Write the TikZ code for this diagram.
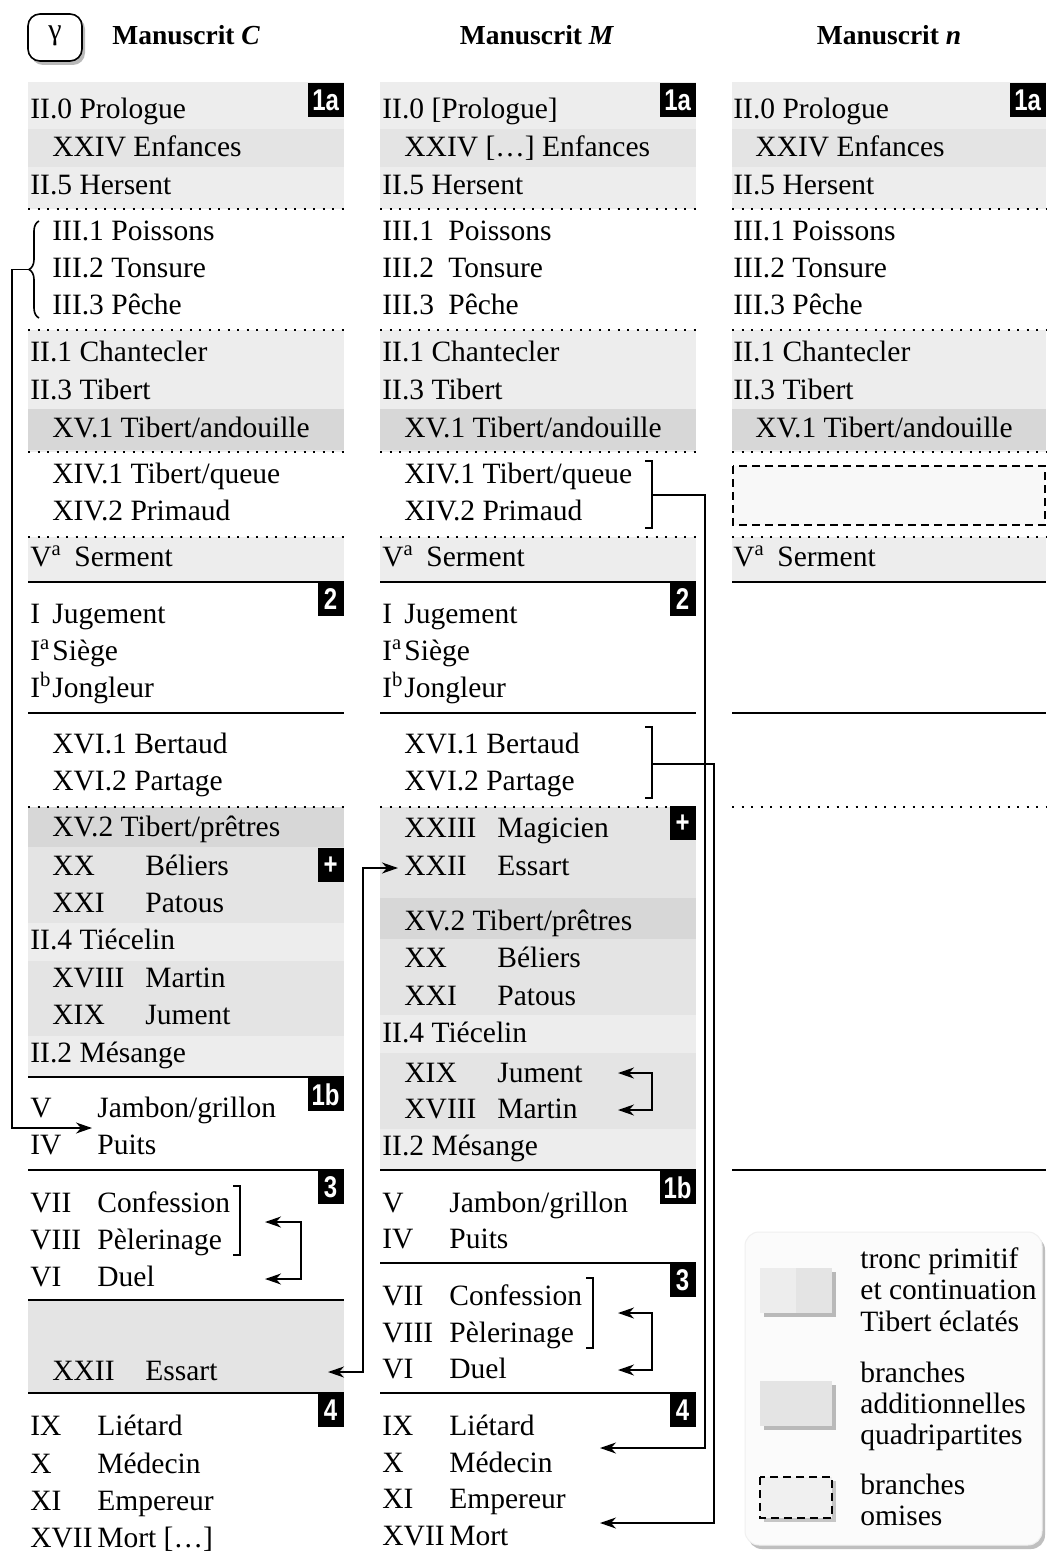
\documentclass[tikz,border=0pt]{standalone}
\usepackage{fontspec}
\setmainfont{Liberation Serif}
\newfontfamily\badgefamily[FakeStretch=0.8]{Liberation Sans}
\usetikzlibrary{arrows.meta,decorations.pathreplacing,calc}
\definecolor{tronc}{RGB}{237,237,237}
\definecolor{addb}{RGB}{228,228,228}
\definecolor{tib}{RGB}{215,215,215}
\definecolor{legbg}{RGB}{251,251,251}
\newcommand{\ms}{\fontsize{14.75}{17}\selectfont}
\newcommand{\en}[3]{\makebox[#1pt][l]{#2}#3}
\newcommand{\sa}{\textsuperscript{a}}
\newcommand{\sbb}{\textsuperscript{b}}
\begin{document}
\begin{tikzpicture}[x=0.5pt,y=-0.5pt,
  txt/.style={anchor=base west, inner sep=0pt, font=\ms},
  hdr/.style={anchor=base, inner sep=0pt, font=\fontsize{13.75}{16}\selectfont\bfseries},
  dotsep/.style={line width=1.2pt, dash pattern=on 1.2pt off 3.55pt},
  solsep/.style={line width=0.9pt},
  badge/.style={fill=black, text=white, inner sep=0pt, anchor=north east, minimum height=17pt,
    font=\fontsize{15}{15}\selectfont\badgefamily\bfseries},
  bw/.style={minimum width=18pt},
  sw/.style={minimum width=13pt},
  conn/.style={line width=0.75pt},
  arr/.style={-{Stealth[length=8pt,width=5.5pt,inset=2.5pt]}},
  darr/.style={{Stealth[length=8pt,width=5.5pt,inset=2.5pt]}-{Stealth[length=8pt,width=5.5pt,inset=2.5pt]}},
  brk/.style={line width=0.9pt},
  legtxt/.style={anchor=base west, inner sep=0pt, font=\ms}
]
\useasboundingbox (0,0) rectangle (1046,1551);
\fill[white] (0,0) rectangle (1046,1551);

% ---------- header ----------
\fill[gray!55, rounded corners=6pt] (31,17) rectangle (85,65);
\draw[line width=0.8pt, fill=white, rounded corners=6pt] (28,14) rectangle (82,61);
\node[font=\fontsize{15}{15}\selectfont] (gam) at (55,36) {γ};
\node[hdr, anchor=base west] (hC) at (112,45) {Manuscrit \textit{C}};
\node[hdr] (hM) at (537,45) {Manuscrit \textit{M}};
\node[hdr] (hN) at (889,45) {Manuscrit \textit{n}};

% ---------- gray fills ----------
% C
\fill[tronc] (28,82) rectangle (344,209);
\fill[addb] (28,129) rectangle (344,167);
\fill[tronc] (28,330) rectangle (344,452);
\fill[tib] (28,409) rectangle (344,450);
\fill[tronc] (28,537) rectangle (344,582);
\fill[tronc] (28,807) rectangle (344,1077);
\fill[tib] (28,807) rectangle (344,847);
\fill[addb] (28,847) rectangle (344,923);
\fill[addb] (28,961) rectangle (344,1036);
\fill[addb] (28,1300) rectangle (344,1393);
% M
\fill[tronc] (380,82) rectangle (696,209);
\fill[addb] (380,129) rectangle (696,167);
\fill[tronc] (380,330) rectangle (696,452);
\fill[tib] (380,409) rectangle (696,450);
\fill[tronc] (380,537) rectangle (696,582);
\fill[tronc] (380,807) rectangle (696,1170);
\fill[addb] (380,807) rectangle (696,898);
\fill[tib] (380,898) rectangle (696,939);
\fill[addb] (380,939) rectangle (696,1015);
\fill[addb] (380,1053) rectangle (696,1129);
% n
\fill[tronc] (732,82) rectangle (1046,209);
\fill[addb] (732,129) rectangle (1046,167);
\fill[tronc] (732,330) rectangle (1046,452);
\fill[tib] (732,409) rectangle (1046,450);
\fill[tronc] (732,537) rectangle (1046,582);
\draw[line width=0.8pt, dash pattern=on 4pt off 2.5pt, fill={rgb,255:red,248;green,248;blue,248}] (733,466) rectangle (1045,525);

% ---------- separators ----------
\foreach \y in {209,330,452,537,807}{
  \draw[dotsep] (28,\y) -- (344,\y);
  \draw[dotsep] (380,\y) -- (696,\y);
  \draw[dotsep] (732,\y) -- (1046,\y);
}
\foreach \y in {582,713,1077,1170,1300,1393} \draw[solsep] (28,\y) -- (344,\y);
\foreach \y in {582,713,1170,1263,1393} \draw[solsep] (380,\y) -- (696,\y);
\foreach \y in {582,713,1170} \draw[solsep] (732,\y) -- (1046,\y);

% ---------- badges ----------
\node[badge,bw] (bC1a) at (344,83) {1a};
\node[badge,sw] (bC2) at (344,582) {2};
\node[badge,sw] (bCp) at (344,848) {+};
\node[badge,bw] (bC1b) at (344,1077) {1b};
\node[badge,sw] (bC3) at (344,1170) {3};
\node[badge,sw] (bC4) at (344,1393) {4};
\node[badge,bw] (bM1a) at (696,83) {1a};
\node[badge,sw] (bM2) at (696,582) {2};
\node[badge,sw] (bMp) at (696,806) {+};
\node[badge,bw] (bM1b) at (696,1170) {1b};
\node[badge,sw] (bM3) at (696,1263) {3};
\node[badge,sw] (bM4) at (696,1393) {4};
\node[badge,bw] (bN1a) at (1046,83) {1a};

% ---------- column C ----------
\node[txt] (cA) at (30,119) {II.0 Prologue};
\node[txt] (cB) at (52,157) {XXIV Enfances};
\node[txt] (cC) at (30,195) {II.5 Hersent};
\node[txt] (cD) at (52,241) {III.1 Poissons};
\node[txt] (cE) at (52,278) {III.2 Tonsure};
\node[txt] (cF) at (52,315) {III.3 Pêche};
\node[txt] (cG) at (30,362) {II.1 Chantecler};
\node[txt] (cH) at (30,399) {II.3 Tibert};
\node[txt] (cI) at (52,437) {XV.1 Tibert/andouille};
\node[txt] (cJ) at (52,483) {XIV.1 Tibert/queue};
\node[txt] (cK) at (52,520) {XIV.2 Primaud};
\node[txt] (cL) at (30,566) {\en{22}{V\sa}{Serment}};
\node[txt] (cM) at (30,623) {\en{11}{I}{Jugement}};
\node[txt] (cN) at (30,660) {\en{11}{I\sa}{Siège}};
\node[txt] (cO) at (30,697) {\en{11}{I\sbb}{Jongleur}};
\node[txt] (cP) at (52,753) {XVI.1 Bertaud};
\node[txt] (cQ) at (52,790) {XVI.2 Partage};
\node[txt] (cR) at (52,836) {XV.2 Tibert/prêtres};
\node[txt] (cS) at (52,875) {\en{46.5}{XX}{Béliers}};
\node[txt] (cT) at (52,912) {\en{46.5}{XXI}{Patous}};
\node[txt] (cU) at (30,949) {II.4 Tiécelin};
\node[txt] (cV) at (52,987) {\en{46.5}{XVIII}{Martin}};
\node[txt] (cW) at (52,1024) {\en{46.5}{XIX}{Jument}};
\node[txt] (cX) at (30,1062) {II.2 Mésange};
\node[txt] (cY) at (30,1117) {\en{33.5}{V}{Jambon/grillon}};
\node[txt] (cZ) at (30,1154) {\en{33.5}{IV}{Puits}};
\node[txt] (c7) at (30,1212) {\en{33.5}{VII}{Confession}};
\node[txt] (c8) at (30,1249) {\en{33.5}{VIII}{Pèlerinage}};
\node[txt] (c6) at (30,1286) {\en{33.5}{VI}{Duel}};
\node[txt] (c22) at (52,1380) {\en{46.5}{XXII}{Essart}};
\node[txt] (c9) at (30,1435) {\en{33.5}{IX}{Liétard}};
\node[txt] (c10) at (30,1473) {\en{33.5}{X}{Médecin}};
\node[txt] (c11) at (30,1510) {\en{33.5}{XI}{Empereur}};
\node[txt] (c17) at (30,1547) {\en{33.5}{XVII}{Mort [\ldots]}};

% ---------- column M ----------
\node[txt] (mA) at (382,119) {II.0 [Prologue]};
\node[txt] (mB) at (404,157) {XXIV [\ldots] Enfances};
\node[txt] (mC) at (382,195) {II.5 Hersent};
\node[txt] (mD) at (382,241) {\en{33}{III.1}{Poissons}};
\node[txt] (mE) at (382,278) {\en{33}{III.2}{Tonsure}};
\node[txt] (mF) at (382,315) {\en{33}{III.3}{Pêche}};
\node[txt] (mG) at (382,362) {II.1 Chantecler};
\node[txt] (mH) at (382,399) {II.3 Tibert};
\node[txt] (mI) at (404,437) {XV.1 Tibert/andouille};
\node[txt] (mJ) at (404,483) {XIV.1 Tibert/queue};
\node[txt] (mK) at (404,520) {XIV.2 Primaud};
\node[txt] (mL) at (382,566) {\en{22}{V\sa}{Serment}};
\node[txt] (mM) at (382,623) {\en{11}{I}{Jugement}};
\node[txt] (mN) at (382,660) {\en{11}{I\sa}{Siège}};
\node[txt] (mO) at (382,697) {\en{11}{I\sbb}{Jongleur}};
\node[txt] (mP) at (404,753) {XVI.1 Bertaud};
\node[txt] (mQ) at (404,790) {XVI.2 Partage};
\node[txt] (m23) at (404,837) {\en{46.5}{XXIII}{Magicien}};
\node[txt] (m22) at (404,875) {\en{46.5}{XXII}{Essart}};
\node[txt] (mR) at (404,930) {XV.2 Tibert/prêtres};
\node[txt] (mS) at (404,967) {\en{46.5}{XX}{Béliers}};
\node[txt] (mT) at (404,1005) {\en{46.5}{XXI}{Patous}};
\node[txt] (mU) at (382,1042) {II.4 Tiécelin};
\node[txt] (mW) at (404,1082) {\en{46.5}{XIX}{Jument}};
\node[txt] (mV) at (404,1118) {\en{46.5}{XVIII}{Martin}};
\node[txt] (mX) at (382,1155) {II.2 Mésange};
\node[txt] (mY) at (382,1212) {\en{33.5}{V}{Jambon/grillon}};
\node[txt] (mZ) at (382,1248) {\en{33.5}{IV}{Puits}};
\node[txt] (m7) at (382,1305) {\en{33.5}{VII}{Confession}};
\node[txt] (m8) at (382,1342) {\en{33.5}{VIII}{Pèlerinage}};
\node[txt] (m6) at (382,1378) {\en{33.5}{VI}{Duel}};
\node[txt] (m9) at (382,1435) {\en{33.5}{IX}{Liétard}};
\node[txt] (m10) at (382,1472) {\en{33.5}{X}{Médecin}};
\node[txt] (m11) at (382,1508) {\en{33.5}{XI}{Empereur}};
\node[txt] (m17) at (382,1545) {\en{33.5}{XVII}{Mort}};

% ---------- column n ----------
\node[txt] (nA) at (733,119) {II.0 Prologue};
\node[txt] (nB) at (755,157) {XXIV Enfances};
\node[txt] (nC) at (733,195) {II.5 Hersent};
\node[txt] (nD) at (733,241) {III.1 Poissons};
\node[txt] (nE) at (733,278) {III.2 Tonsure};
\node[txt] (nF) at (733,315) {III.3 Pêche};
\node[txt] (nG) at (733,362) {II.1 Chantecler};
\node[txt] (nH) at (733,399) {II.3 Tibert};
\node[txt] (nI) at (755,437) {XV.1 Tibert/andouille};
\node[txt] (nL) at (733,566) {\en{22}{V\sa}{Serment}};

% ---------- brace and brackets ----------
\draw[line width=0.8pt, decorate, decoration={brace, amplitude=5pt}] (39,318) -- (39,221);
\coordinate (braceTip) at (29,269.5);
\draw[brk] (233,1186) -- (240,1186) -- (240,1255) -- (233,1255);
\draw[brk] (586,1278) -- (593,1278) -- (593,1348) -- (586,1348);
\draw[brk] (645,461) -- (652,461) -- (652,528) -- (645,528);
\draw[brk] (645,727) -- (652,727) -- (652,798) -- (645,798);
\coordinate (brXIV) at (652,495);
\coordinate (brXVI) at (652,764);

% ---------- arrow targets ----------
\coordinate (tPuits) at (92,1128);
\coordinate (tEssC) at (328,1372);
\coordinate (tEssM) at (398,868);
\coordinate (tC3a) at (265,1222);
\coordinate (tC3b) at (265,1279);
\coordinate (tM19) at (618,1073);
\coordinate (tM18) at (618,1110);
\coordinate (tM3a) at (618,1313);
\coordinate (tM3b) at (618,1370);
\coordinate (tM9) at (600,1448);
\coordinate (tM17) at (600,1523);

% ---------- connectors ----------
\draw[conn,arr] (braceTip) -- ++(-17,0) |- (tPuits);
\draw[conn,darr] (tEssC) -- ++(35,0) |- (tEssM);
\draw[conn,darr] (tC3a) -- ++(36,0) |- (tC3b);
\draw[conn,darr] (tM19) -- ++(34,0) |- (tM18);
\draw[conn,darr] (tM3a) -- ++(34,0) |- (tM3b);
\draw[conn,arr] (brXIV) -- ++(53,0) |- (tM9);
\draw[conn,arr] (brXVI) -- ++(62,0) |- (tM17);

% ---------- legend ----------
\fill[gray!50, rounded corners=7pt] (748,1236) rectangle (1045,1549);
\draw[gray!12, line width=0.5pt, fill=legbg, rounded corners=7pt] (745,1232) rectangle (1042,1545);
% swatch 1
\fill[gray!55] (764,1272) rectangle (836,1317);
\fill[tronc] (760,1268) rectangle (796,1313);
\fill[addb] (796,1268) rectangle (832,1313);
% swatch 2
\fill[gray!55] (764,1385) rectangle (836,1430);
\fill[addb] (760,1381) rectangle (832,1426);
% swatch 3
\fill[gray!45] (764,1481) rectangle (836,1522);
\draw[line width=0.8pt, dash pattern=on 4pt off 2.5pt, fill={rgb,255:red,240;green,240;blue,240}] (760,1477) rectangle (832,1518);
\node[legtxt] (l1a) at (860,1268) {tronc primitif};
\node[legtxt] (l1b) at (860,1299) {et continuation};
\node[legtxt] (l1c) at (860,1331) {Tibert éclatés};
\node[legtxt] (l2a) at (860,1382) {branches};
\node[legtxt] (l2b) at (860,1413) {additionnelles};
\node[legtxt] (l2c) at (860,1444) {quadripartites};
\node[legtxt] (l3a) at (860,1494) {branches};
\node[legtxt] (l3b) at (860,1525) {omises};
\end{tikzpicture}
\end{document}
